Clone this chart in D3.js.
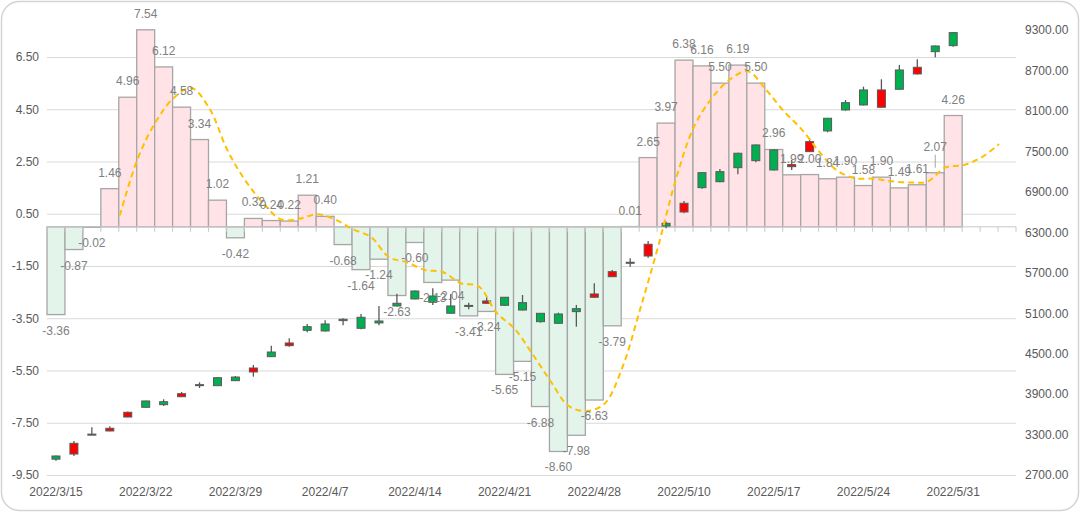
<!DOCTYPE html>
<html>
<head>
<meta charset="utf-8">
<script src="https://cdn.jsdelivr.net/npm/d3@7/dist/d3.min.js"></script>
<style>
  html, body { margin: 0; padding: 0; background: #fff; }
  svg { display: block; font-family: "Liberation Sans", Arial, sans-serif; }
</style>
</head>
<body>
<svg id="chart" width="1080" height="512"></svg>
<script>
// ---------------- data ----------------
const categories = [
  "2022/3/15","2022/3/16","2022/3/17","2022/3/18","2022/3/21","2022/3/22","2022/3/23","2022/3/24","2022/3/25","2022/3/28",
  "2022/3/29","2022/3/30","2022/3/31","2022/4/1","2022/4/6","2022/4/7","2022/4/8","2022/4/11","2022/4/12","2022/4/13",
  "2022/4/14","2022/4/15","2022/4/18","2022/4/19","2022/4/20","2022/4/21","2022/4/22","2022/4/25","2022/4/26","2022/4/27",
  "2022/4/28","2022/4/29","2022/5/5","2022/5/6","2022/5/9","2022/5/10","2022/5/11","2022/5/12","2022/5/13","2022/5/16",
  "2022/5/17","2022/5/18","2022/5/19","2022/5/20","2022/5/23","2022/5/24","2022/5/25","2022/5/26","2022/5/27","2022/5/30",
  "2022/5/31","2022/6/1","2022/6/2","2022/6/6"
];

// bar series (primary axis)
const barValues = [
  -3.36,-0.87,-0.02,1.46,4.96,7.54,6.12,4.58,3.34,1.02,
  -0.42,0.32,0.24,0.22,1.21,0.40,-0.68,-1.64,-1.24,-2.63,
  -0.60,-2.13,-2.04,-3.41,-3.24,-5.65,-5.15,-6.88,-8.60,-7.98,
  -6.63,-3.79,0.01,2.65,3.97,6.38,6.16,5.50,6.19,5.50,
  2.96,1.99,2.00,1.84,1.90,1.58,1.90,1.49,1.61,2.07,
  4.26,null,null,null
];

// dashed smooth line (primary axis)
const lineValues = [
  null,null,null,null,0.43,2.61,4.01,4.93,5.31,4.52,
  2.93,1.77,0.90,0.28,0.31,0.48,0.28,-0.10,-0.39,-1.16,
  -1.36,-1.65,-1.73,-2.16,-2.28,-3.29,-3.90,-4.87,-5.90,-6.85,
  -7.05,-6.78,-5.40,-3.15,-0.76,1.84,3.83,4.93,5.64,5.95,
  5.26,4.43,3.73,2.86,2.14,1.86,1.84,1.74,1.70,1.73,
  2.27,2.36,2.65,3.17
];

// candlesticks (secondary axis)
const openValues = [
  2935,3170,3300,3393,3630,3704,3743,3906,4030,4025,
  4099,4287,4455,4658,4846,4836,4990,4876,4955,5207,
  5311,5262,5099,5200,5281,5217,5147,4974,4950,5123,
  5385,5716,5845,6122,6393,6730,6962,7050,7258,7362,
  7224,7303,7644,7803,8114,8188,8411,8421,8747,8979,
  9068,null,null,null
];
const highValues = [
  2990,3204,3407,3422,3640,3800,3823,3931,4075,4153,
  4168,4332,4618,4728,4940,4995,5025,5088,5207,5390,
  5435,5469,5385,5255,5336,5340,5370,5100,5108,5222,
  5543,5741,5914,6171,6458,6764,7190,7239,7480,7600,
  7530,7372,7694,7995,8262,8460,8569,8782,8866,9070,
  9265,null,null,null
];
const lowValues = [
  2910,2982,3295,3350,3555,3700,3723,3858,3990,4020,
  4095,4158,4450,4603,4817,4830,4920,4861,4920,5200,
  5305,5222,5095,5160,5240,5210,5140,4960,4945,4900,
  5330,5635,5790,5923,6359,6582,6947,7041,7160,7338,
  7215,7224,7490,7783,8104,8180,8150,8415,8640,8896,
  9053,null,null,null
];
const closeValues = [
  2982,3011,3306,3353,3560,3798,3787,3861,4040,4143,
  4153,4228,4524,4618,4900,4940,5010,5039,4984,5247,
  5429,5355,5207,5215,5247,5336,5256,5098,5088,5167,
  5336,5641,5855,5948,6433,6601,7184,7199,7472,7595,
  7521,7273,7496,7991,8222,8411,8154,8707,8648,9063,
  9261,null,null,null
];

const leftTicks  = [-9.5,-7.5,-5.5,-3.5,-1.5,0.5,2.5,4.5,6.5];
const rightTicks = [2700,3300,3900,4500,5100,5700,6300,6900,7500,8100,8700,9300];
const dateTickLabels = ["2022/3/15","2022/3/22","2022/3/29","2022/4/7","2022/4/14","2022/4/21","2022/4/28","2022/5/10","2022/5/17","2022/5/24","2022/5/31"];

// ---------------- chart ----------------
const svg = d3.select("#chart");
const W = 1080, H = 512;
const plot = { left: 47, right: 1016, top: 30, bottom: 475 };
const fmt2 = v => d3.format(".2f")(v).replace("\u2212", "-");

// outer rounded border
svg.append("rect")
  .attr("x", 1.5).attr("y", 1.5).attr("width", W - 3).attr("height", H - 3)
  .attr("rx", 18).attr("ry", 18)
  .attr("fill", "#fff").attr("stroke", "#D4D4D4").attr("stroke-width", 1.5);

const x = d3.scaleBand().domain(categories).range([plot.left, plot.right]).padding(0);
const bw = x.bandwidth();
const yL = d3.scaleLinear().domain([-9.5, 6.5]).range([475, 57]);
const yR = d3.scaleLinear().domain([2700, 9300]).range([475, 30]);

// gridlines (primary axis)
const leftAxis = d3.axisLeft(yL).tickValues(leftTicks).tickFormat(fmt2)
  .tickSize(-(plot.right - plot.left)).tickPadding(8);
const gL = svg.append("g").attr("transform", `translate(${plot.left},0)`).call(leftAxis);
gL.select(".domain").remove();
gL.selectAll(".tick line").attr("stroke", "#D9D9D9").attr("stroke-width", 1);
gL.selectAll(".tick text").attr("fill", "#595959").attr("font-size", 12)
  .attr("font-family", "Liberation Sans, Arial, sans-serif");

// right axis
const rightAxis = d3.axisRight(yR).tickValues(rightTicks).tickFormat(fmt2).tickSize(0).tickPadding(9);
const gR = svg.append("g").attr("transform", `translate(${plot.right},0)`).call(rightAxis);
gR.select(".domain").remove();
gR.selectAll(".tick text").attr("fill", "#595959").attr("font-size", 12)
  .attr("font-family", "Liberation Sans, Arial, sans-serif");

// bars
const idx = d3.range(categories.length);
const y0 = yL(0);
svg.append("g").selectAll("rect")
  .data(idx.filter(i => barValues[i] != null))
  .join("rect")
  .attr("x", i => x(categories[i]))
  .attr("width", bw)
  .attr("y", i => Math.min(yL(barValues[i]), y0))
  .attr("height", i => Math.abs(yL(barValues[i]) - y0))
  .attr("fill", i => barValues[i] >= 0 ? "#FFE3E6" : "#E3F4EA")
  .attr("stroke", "#A6A6A6").attr("stroke-width", 1.3);

// category axis line at zero with tick marks between categories
const gX = svg.append("g");
gX.append("line").attr("x1", plot.left).attr("x2", plot.right).attr("y1", y0).attr("y2", y0)
  .attr("stroke", "#C8C8C8").attr("stroke-width", 1);
gX.selectAll("line.tk").data(d3.range(categories.length + 1)).join("line").attr("class", "tk")
  .attr("x1", k => plot.left + k * bw).attr("x2", k => plot.left + k * bw)
  .attr("y1", y0).attr("y2", y0 + 5)
  .attr("stroke", "#C8C8C8").attr("stroke-width", 1);

// date labels at bottom
const xAxis = d3.axisBottom(x).tickValues(dateTickLabels).tickSize(0).tickPadding(0);
const gB = svg.append("g").attr("transform", `translate(0,${plot.bottom + 12})`).call(xAxis);
gB.select(".domain").remove();
gB.selectAll(".tick text").attr("fill", "#595959").attr("font-size", 12)
  .attr("font-family", "Liberation Sans, Arial, sans-serif");

// candlesticks
const cw = 8;
const gC = svg.append("g");
const candleIdx = idx.filter(i => openValues[i] != null);
gC.selectAll("line.wick").data(candleIdx).join("line").attr("class", "wick")
  .attr("x1", i => x(categories[i]) + bw / 2).attr("x2", i => x(categories[i]) + bw / 2)
  .attr("y1", i => yR(highValues[i])).attr("y2", i => yR(lowValues[i]))
  .attr("stroke", "#595959").attr("stroke-width", 1.3);
gC.selectAll("rect.body").data(candleIdx).join("rect").attr("class", "body")
  .attr("x", i => x(categories[i]) + bw / 2 - cw / 2)
  .attr("width", cw)
  .attr("y", i => yR(Math.max(openValues[i], closeValues[i])))
  .attr("height", i => Math.max(1, Math.abs(yR(openValues[i]) - yR(closeValues[i]))))
  .attr("fill", i => closeValues[i] >= openValues[i] ? "#00B050" : "#FF0000")
  .attr("stroke", "#595959").attr("stroke-width", 1);

// dashed smooth line
const line = d3.line()
  .defined(i => lineValues[i] != null)
  .x(i => x(categories[i]) + 1)
  .y(i => yL(lineValues[i]))
  .curve(d3.curveCatmullRom.alpha(0.5));
svg.append("path").datum(idx)
  .attr("d", line)
  .attr("fill", "none").attr("stroke", "#FFC000").attr("stroke-width", 2)
  .attr("stroke-dasharray", "6,4");

// data labels
const raised = { 49: 10 };
const gT = svg.append("g");
idx.filter(i => barValues[i] != null).forEach(i => {
  const v = barValues[i];
  const cx = x(categories[i]) + bw / 2;
  const extra = raised[i] || 0;
  const ty = v >= 0 ? yL(v) - 16 - extra : yL(v) + 16 + extra;
  if (extra) {
    gT.append("line").attr("x1", cx).attr("x2", cx)
      .attr("y1", v >= 0 ? ty + 8 : ty - 8).attr("y2", v >= 0 ? yL(v) - 5 : yL(v) + 5)
      .attr("stroke", "#A6A6A6").attr("stroke-width", 1);
  }
  gT.append("text")
    .attr("x", cx).attr("y", ty)
    .attr("text-anchor", "middle").attr("dominant-baseline", "central")
    .attr("font-size", 12).attr("fill", "#808080")
    .text(fmt2(v));
});
</script>
</body>
</html>
